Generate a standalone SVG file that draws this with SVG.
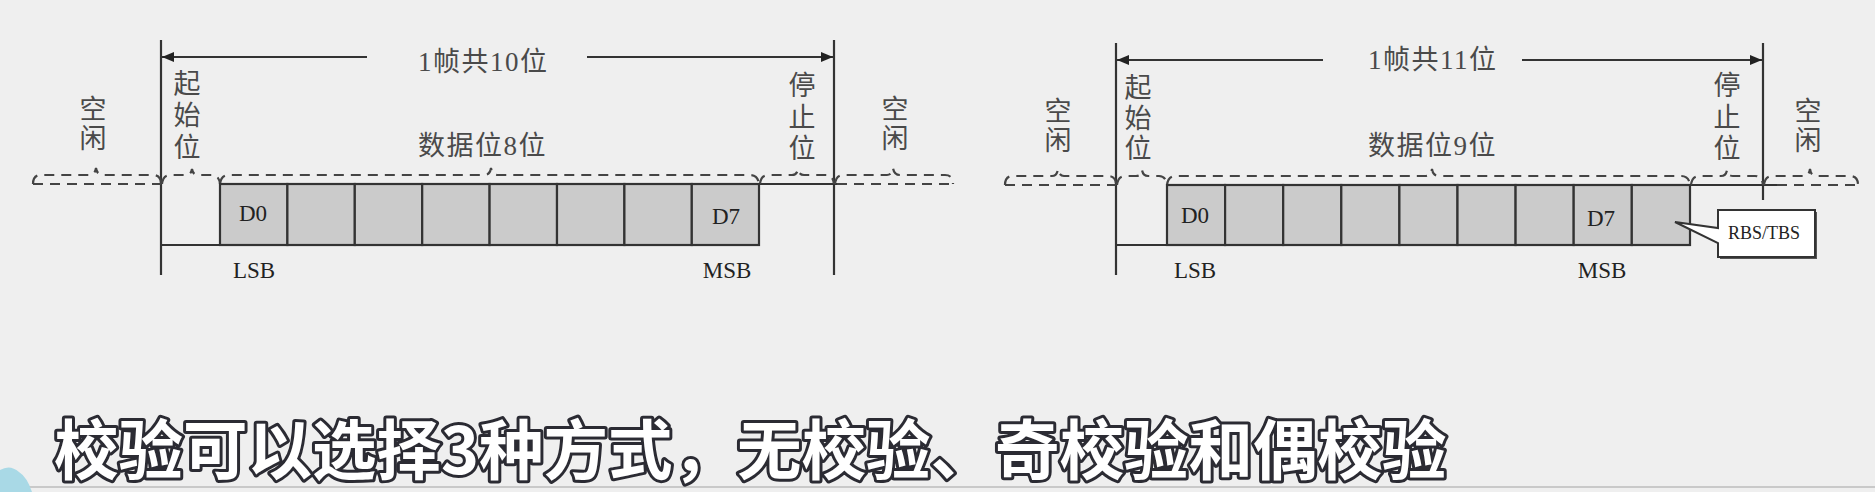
<svg xmlns="http://www.w3.org/2000/svg" width="1875" height="492" viewBox="0 0 1875 492">
<defs>
<marker id="arr" viewBox="0 0 12 10" refX="12" refY="5" markerWidth="12" markerHeight="10" markerUnits="userSpaceOnUse" orient="auto-start-reverse">
<path d="M0,0 L12,5 L0,10 Z" fill="#222"/>
</marker>
<style>
.ln{stroke:#333;stroke-width:2.2;fill:none}
.dash{stroke:#444;stroke-width:2.2;fill:none;stroke-dasharray:10,7}
.box{fill:#cbcbcb;stroke:#333;stroke-width:2.2}
.cj{font-family:"Liberation Serif","Noto Sans CJK SC",serif;font-size:27px;fill:#4a4a4a}
.hz{letter-spacing:1.5px}
.lt{font-family:"Liberation Serif",serif;font-size:23px;fill:#222;text-anchor:middle}
.vt{text-anchor:middle}
.sub{font-family:"Noto Sans CJK SC",sans-serif;font-weight:bold;font-size:64.5px;fill:#fff;stroke:#2b2b33;stroke-width:6;paint-order:stroke;stroke-linejoin:round}
</style>
</defs>
<rect width="1875" height="492" fill="#efefef"/>

<g id="connectors">
<line class="ln" x1="161" y1="40" x2="161" y2="275"/>
<line class="ln" x1="834" y1="40" x2="834" y2="275"/>
<line class="ln" x1="367" y1="57" x2="162" y2="57" marker-end="url(#arr)"/>
<line class="ln" x1="587" y1="57" x2="833" y2="57" marker-end="url(#arr)"/>
<path class="ln" d="M161,245 H220 M759,184 H837"/>
<path class="dash" d="M33,184 H161 M837,184 H953"/>
<path class="dash" d="M33,184 Q33,175 41,175 H89 Q95,175 96,168 Q97,175 103,175 H153 Q161,175 161,184"/>
<path class="dash" d="M162,184 Q163,175 170,175 H186 Q191,175 192,169 Q193,175 198,175 H212 Q219,175 220,184"/>
<path class="dash" d="M220,184 Q221,175 229,175 H484 Q490,175 491,168 Q492,175 498,175 H750 Q758,175 759,184"/>
<path class="dash" d="M760,184 Q761,175 768,175 H792 Q797,175 798,169 Q799,175 804,175 H826 Q833,175 834,184"/>
<path class="dash" d="M835,184 Q836,175 843,175 H887 Q892,175 893,168 Q894,175 900,175 H945 Q953,175 953,184"/>

<line class="ln" x1="1116" y1="43" x2="1116" y2="275"/>
<line class="ln" x1="1763" y1="43" x2="1763" y2="200"/>
<line class="ln" x1="1323" y1="60" x2="1117" y2="60" marker-end="url(#arr)"/>
<line class="ln" x1="1522" y1="60" x2="1762" y2="60" marker-end="url(#arr)"/>
<path class="ln" d="M1116,245 H1167 M1690,185 H1777"/>
<path class="dash" d="M1005,185 H1116 M1777,185 H1858"/>
<path class="dash" d="M1005,185 Q1005,176 1013,176 H1052 Q1057,176 1058,169 Q1059,176 1064,176 H1108 Q1116,176 1116,185"/>
<path class="dash" d="M1117,185 Q1118,176 1125,176 H1136 Q1141,176 1142,170 Q1143,176 1148,176 H1159 Q1166,176 1167,185"/>
<path class="dash" d="M1167,185 Q1168,176 1176,176 H1425 Q1431,176 1432,169 Q1433,176 1439,176 H1681 Q1689,176 1690,185"/>
<path class="dash" d="M1691,185 Q1692,176 1699,176 H1721 Q1726,176 1727,170 Q1728,176 1733,176 H1755 Q1762,176 1763,185"/>
<path class="dash" d="M1764,185 Q1765,176 1772,176 H1804 Q1809,176 1810,169 Q1811,176 1816,176 H1850 Q1858,176 1858,185"/>
</g>

<g id="frame1">
<g id="d1-bits">
<rect class="box" x="220" y="184" width="67.4" height="61"/>
<rect class="box" x="287.4" y="184" width="67.4" height="61"/>
<rect class="box" x="354.8" y="184" width="67.4" height="61"/>
<rect class="box" x="422.2" y="184" width="67.4" height="61"/>
<rect class="box" x="489.6" y="184" width="67.4" height="61"/>
<rect class="box" x="557" y="184" width="67.4" height="61"/>
<rect class="box" x="624.4" y="184" width="67.4" height="61"/>
<rect class="box" x="691.8" y="184" width="67.2" height="61"/>
<text class="lt" x="253" y="221">D0</text>
<text class="lt" x="726" y="224">D7</text>
</g>
<g id="d1-labels">
<text class="cj hz" x="418" y="71">1帧共10位</text>
<text class="cj hz" x="418" y="155">数据位8位</text>
<text class="cj vt" x="93" y="119">空</text>
<text class="cj vt" x="93" y="148">闲</text>
<text class="cj vt" x="187" y="93">起</text>
<text class="cj vt" x="187" y="125">始</text>
<text class="cj vt" x="187" y="157">位</text>
<text class="cj vt" x="802" y="95">停</text>
<text class="cj vt" x="802" y="127">止</text>
<text class="cj vt" x="802" y="158">位</text>
<text class="cj vt" x="895" y="119">空</text>
<text class="cj vt" x="895" y="148">闲</text>
<text class="lt" x="254" y="278">LSB</text>
<text class="lt" x="727" y="278">MSB</text>
</g>
</g>

<g id="frame2">
<g id="d2-bits">
<rect class="box" x="1167" y="185" width="58.1" height="60"/>
<rect class="box" x="1225.1" y="185" width="58.1" height="60"/>
<rect class="box" x="1283.2" y="185" width="58.1" height="60"/>
<rect class="box" x="1341.3" y="185" width="58.1" height="60"/>
<rect class="box" x="1399.4" y="185" width="58.1" height="60"/>
<rect class="box" x="1457.5" y="185" width="58.1" height="60"/>
<rect class="box" x="1515.6" y="185" width="58.1" height="60"/>
<rect class="box" x="1573.7" y="185" width="58.1" height="60"/>
<rect class="box" x="1631.8" y="185" width="58.2" height="60"/>
<text class="lt" x="1195" y="223">D0</text>
<text class="lt" x="1601" y="226">D7</text>
</g>
<g id="d2-labels">
<text class="cj hz" x="1368" y="69">1帧共11位</text>
<text class="cj hz" x="1368" y="155">数据位9位</text>
<text class="cj vt" x="1058" y="121">空</text>
<text class="cj vt" x="1058" y="150">闲</text>
<text class="cj vt" x="1138" y="97">起</text>
<text class="cj vt" x="1138" y="128">始</text>
<text class="cj vt" x="1138" y="158">位</text>
<text class="cj vt" x="1727" y="95">停</text>
<text class="cj vt" x="1727" y="127">止</text>
<text class="cj vt" x="1727" y="158">位</text>
<text class="cj vt" x="1808" y="121">空</text>
<text class="cj vt" x="1808" y="150">闲</text>
<text class="lt" x="1195" y="278">LSB</text>
<text class="lt" x="1602" y="278">MSB</text>
</g>
<g id="callout">
<path d="M1720,212 H1817 V259 H1720 Z" fill="#555"/>
<path d="M1718,210 H1815 V257 H1718 V243 L1675,222 L1718,228 Z" fill="#fff" stroke="#333" stroke-width="2"/>
<text x="1764" y="239" font-family="Liberation Serif,serif" font-size="18" fill="#222" text-anchor="middle">RBS/TBS</text>
</g>
</g>

<g id="caption">
<line x1="0" y1="487" x2="1875" y2="487" stroke="#c9c9c9" stroke-width="2"/>
<path d="M0,470 Q10,464 19,472 Q27,477 32,492 H0 Z" fill="#a9d9e6"/>
<text class="sub" x="54" y="474">校验可以选择3种方式，无校验、奇校验和偶校验</text>
</g>
</svg>
